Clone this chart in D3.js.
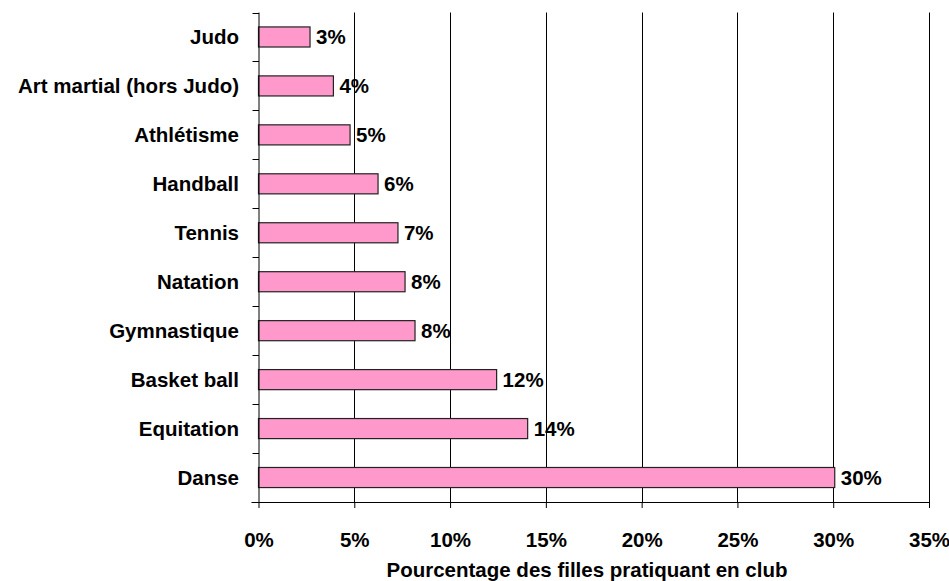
<!DOCTYPE html>
<html>
<head>
<meta charset="utf-8">
<script src="https://cdn.jsdelivr.net/npm/d3@7"></script>
<style>
  html, body { margin: 0; padding: 0; background: #fff; }
  svg { display: block; }
  text { font-family: "Liberation Sans", Arial, sans-serif; font-weight: bold; fill: #000; }
</style>
</head>
<body>
<div id="chart"></div>
<script>
const categories = ["Judo", "Art martial (hors Judo)", "Athlétisme", "Handball", "Tennis",
                    "Natation", "Gymnastique", "Basket ball", "Equitation", "Danse"];
const values = [2.69, 3.91, 4.78, 6.24, 7.28, 7.65, 8.17, 12.43, 14.05, 30.08];
const valueLabels = ["3%", "4%", "5%", "6%", "7%", "8%", "8%", "12%", "14%", "30%"];
const xTicks = [0, 5, 10, 15, 20, 25, 30, 35];
const xTitle = "Pourcentage des filles pratiquant en club";

(function () {
const W = 949, H = 581;
const pLeft = 258.5, pRight = 929, pTop = 12.5, pBottom = 502;
const FS = 20.5;

const svg = d3.select("#chart").append("svg")
  .attr("width", W).attr("height", H);

const x = d3.scaleLinear().domain([0, 35]).range([pLeft, pRight]);
const y = d3.scaleBand().domain(categories).range([pTop, pBottom])
  .paddingInner(0.59).paddingOuter(0.295);

// vertical gridlines
svg.append("g").selectAll("line")
  .data(xTicks.filter(d => d > 0))
  .join("line")
  .attr("x1", d => Math.round(x(d)) + 0.5).attr("x2", d => Math.round(x(d)) + 0.5)
  .attr("y1", pTop).attr("y2", pBottom)
  .attr("stroke", "#000").attr("stroke-width", 1);

// bars
svg.append("g").selectAll("rect")
  .data(values)
  .join("rect")
  .attr("x", x(0))
  .attr("y", (d, i) => y(categories[i]))
  .attr("width", d => x(d) - x(0))
  .attr("height", y.bandwidth())
  .attr("fill", "#FF99CC")
  .attr("stroke", "#222")
  .attr("stroke-width", 1.2);

// value labels
svg.append("g").selectAll("text")
  .data(values)
  .join("text")
  .attr("x", d => x(d) + 6)
  .attr("y", (d, i) => y(categories[i]) + y.bandwidth() / 2)
  .attr("dy", "0.35em")
  .attr("font-size", FS)
  .text((d, i) => valueLabels[i]);

// x axis
const xAxis = d3.axisBottom(x).tickValues(xTicks).tickFormat(d => d + "%")
  .tickSizeInner(6).tickSizeOuter(0).tickPadding(24);
const gx = svg.append("g").attr("transform", `translate(0,${pBottom})`).call(xAxis);
gx.select(".domain").attr("d", `M${pLeft - 7},0.5H${pRight}`).attr("stroke", "#000");
gx.selectAll(".tick line").attr("stroke", "#000");
gx.selectAll(".tick text").attr("font-size", FS).attr("font-family", null).attr("fill", "#000");

// y axis
const gy = svg.append("g").attr("transform", `translate(${pLeft},0)`);
gy.append("line").attr("x1", 0.5).attr("x2", 0.5).attr("y1", pTop).attr("y2", pBottom)
  .attr("stroke", "#000");
const boundaries = d3.range(categories.length + 1).map(i => pTop + i * y.step());
gy.selectAll("line.tk").data(boundaries).join("line").attr("class", "tk")
  .attr("x1", -6).attr("x2", 0.5)
  .attr("y1", d => Math.round(d) + 0.5).attr("y2", d => Math.round(d) + 0.5)
  .attr("stroke", "#000");
svg.append("g").selectAll("text")
  .data(categories)
  .join("text")
  .attr("x", 239)
  .attr("y", d => y(d) + y.bandwidth() / 2)
  .attr("dy", "0.35em")
  .attr("text-anchor", "end")
  .attr("font-size", FS)
  .text(d => d);

// axis title
svg.append("text")
  .attr("x", 587).attr("y", 577)
  .attr("text-anchor", "middle")
  .attr("font-size", FS)
  .text(xTitle);
})();
</script>
</body>
</html>
